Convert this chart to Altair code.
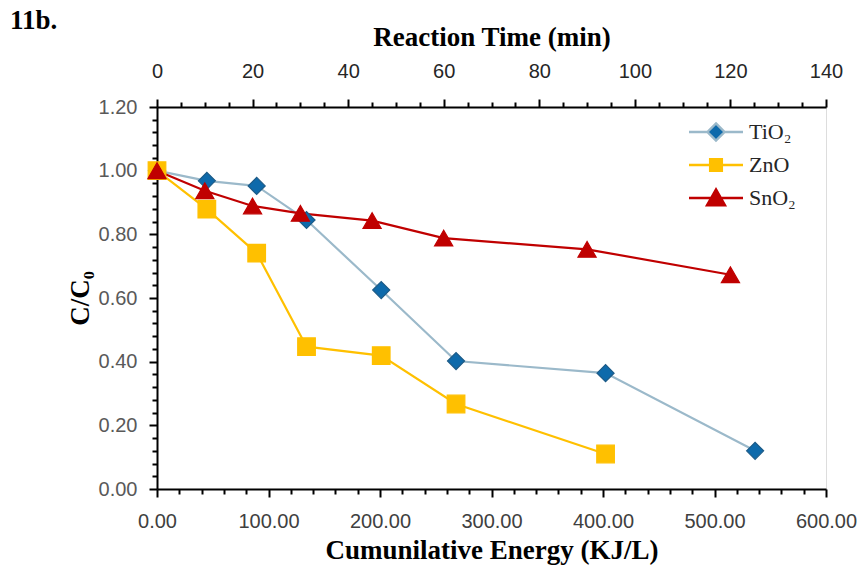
import altair as alt
import pandas as pd

series_names = ["TiO₂", "ZnO", "SnO₂"]

tio2_energy = [0, 44.7, 89.4, 134.1, 201.1, 268.2, 402.3, 536.4]
tio2_c = [1.00, 0.968, 0.952, 0.845, 0.625, 0.402, 0.364, 0.120]

zno_energy = [0, 44.7, 89.4, 134.1, 201.1, 268.2, 402.3]
zno_c = [1.00, 0.879, 0.741, 0.447, 0.419, 0.267, 0.110]

sno2_energy = [0, 42.9, 85.7, 128.6, 192.9, 257.1, 385.7, 514.3]
sno2_c = [1.00, 0.937, 0.889, 0.866, 0.843, 0.788, 0.753, 0.673]

time_range = [0, 140]

line_colors = ["#9BB9CA", "#FFC000", "#C00000"]
fill_colors = ["#0E6AAB", "#FFC000", "#C00000"]
stroke_colors = ["#1D5B87", "#FFC000", "#C00000"]
shapes = ["diamond", "square", "triangle-up"]
sizes = [290, 330, 360]
legend_paths = [
    "M-3,0L-0.95,0M0.95,0L3,0M0,-0.95L0.95,0L0,0.95L-0.95,0Z",
    "M-3,0L-0.65,0M0.65,0L3,0M-0.65,-0.65L0.65,-0.65L0.65,0.65L-0.65,0.65Z",
    "M-3,0L-0.55,0M0.55,0L3,0M0,-0.95L1,0.8L-1,0.8Z",
]

rows = []
for name, xs, ys in [(series_names[0], tio2_energy, tio2_c),
                     (series_names[1], zno_energy, zno_c),
                     (series_names[2], sno2_energy, sno2_c)]:
    for i, (x, y) in enumerate(zip(xs, ys)):
        rows.append({"series": name, "energy": x, "c": y, "idx": i})
df = pd.DataFrame(rows)
time_df = pd.DataFrame({"t": time_range})

x_ticks = list(range(0, 601, 20))
y_ticks = [round(i * 0.04, 2) for i in range(31)]
t_ticks = list(range(0, 141, 5))

x_axis = alt.Axis(
    values=x_ticks,
    labelExpr="round(datum.value) % 100 == 0 ? format(datum.value, '.2f') : ''",
    tickSize={"condition": {"test": "round(datum.value) % 100 == 0", "value": 8}, "value": 5},
    labelFont="Liberation Sans", labelFontSize=20, labelColor="#404040",
    labelPadding=14, labelOverlap=False, labelFlush=False,
    title="Cumunilative  Energy (KJ/L)", titleFont="Liberation Serif",
    titleFontSize=27, titleFontWeight="bold", titleColor="black", titlePadding=6,
    domainColor="black", domainWidth=2, tickColor="black", tickWidth=2, grid=False,
)
y_axis = alt.Axis(
    values=y_ticks,
    labelExpr="abs(datum.value*5 - round(datum.value*5)) < 0.001 ? format(datum.value, '.2f') : ''",
    tickSize={"condition": {"test": "abs(datum.value*5 - round(datum.value*5)) < 0.001", "value": 8}, "value": 5},
    labelFont="Liberation Sans", labelFontSize=20, labelColor="#595959",
    labelPadding=12, labelOverlap=False, labelFlush=False,
    title="C/C₀", titleFont="Liberation Serif",
    titleFontSize=27, titleFontWeight="bold", titleColor="black", titlePadding=4,
    domainColor="black", domainWidth=2, tickColor="black", tickWidth=2, grid=False,
)
t_axis = alt.Axis(
    orient="top",
    values=t_ticks,
    labelExpr="round(datum.value) % 20 == 0 ? format(datum.value, 'd') : ''",
    tickSize={"condition": {"test": "round(datum.value) % 20 == 0", "value": 8}, "value": 5},
    labelFont="Liberation Sans", labelFontSize=20, labelColor="#262626",
    labelPadding=18, labelOverlap=False, labelFlush=False,
    title="Reaction Time (min)", titleFont="Liberation Serif",
    titleFontSize=27, titleFontWeight="bold", titleColor="black", titlePadding=10,
    domainColor="black", domainWidth=2, tickColor="black", tickWidth=2, grid=False,
)

x_enc = alt.X("energy:Q", scale=alt.Scale(domain=[0, 600], nice=False), axis=x_axis)
y_enc = alt.Y("c:Q", scale=alt.Scale(domain=[0, 1.2], nice=False), axis=y_axis)

lines = alt.Chart(df).mark_line(strokeWidth=2.2).encode(
    x=x_enc, y=y_enc,
    color=alt.Color("series:N", scale=alt.Scale(domain=series_names, range=line_colors), legend=None),
    order="idx:Q",
)

points = alt.Chart(df).mark_point(filled=True, opacity=1, strokeWidth=1.2).encode(
    x=x_enc, y=y_enc,
    shape=alt.Shape("series:N", scale=alt.Scale(domain=series_names, range=shapes), legend=None),
    fill=alt.Fill("series:N", scale=alt.Scale(domain=series_names, range=fill_colors), legend=None),
    stroke=alt.Stroke("series:N", scale=alt.Scale(domain=series_names, range=stroke_colors), legend=None),
    size=alt.Size("series:N", scale=alt.Scale(domain=series_names, range=sizes), legend=None),
)

leg = alt.Legend(
    title=None, orient="none", legendX=548, legendY=14,
    labelFont="Liberation Serif", labelFontSize=22, labelColor="#262626",
    labelOffset=22, rowPadding=8, symbolSize=324, symbolStrokeWidth=2.4, symbolOpacity=1,
)
legend_layer = alt.Chart(df).transform_filter("false").mark_point(
    filled=True, opacity=1, size=324, strokeWidth=2.4
).encode(
    x=x_enc, y=y_enc,
    shape=alt.Shape("series:N", scale=alt.Scale(domain=series_names, range=legend_paths), legend=leg),
    fill=alt.Fill("series:N", scale=alt.Scale(domain=series_names, range=fill_colors), legend=leg),
    stroke=alt.Stroke("series:N", scale=alt.Scale(domain=series_names, range=line_colors), legend=leg),
)

inner = alt.layer(lines, points, legend_layer).resolve_scale(
    shape="independent", fill="independent", stroke="independent", color="independent", size="independent"
)

top = alt.Chart(time_df).mark_point(opacity=0).encode(
    x=alt.X("t:Q", scale=alt.Scale(domain=[0, 140], nice=False), axis=t_axis),
)

chart = alt.layer(inner, top).resolve_scale(x="independent").properties(
    width=669, height=382,
    title=alt.TitleParams("11b.", anchor="start", frame="group", font="Liberation Serif", fontSize=27,
                          fontWeight="bold", color="black", dx=-147, dy=14, offset=2),
    autosize=alt.AutoSizeParams(type="none"),
    padding={"left": 157, "top": 107, "right": 37, "bottom": 83},
).configure_view(stroke="black", strokeWidth=1.5).configure(background="white")

chart.save("out.html", embed_options={"renderer": "svg", "actions": False})
